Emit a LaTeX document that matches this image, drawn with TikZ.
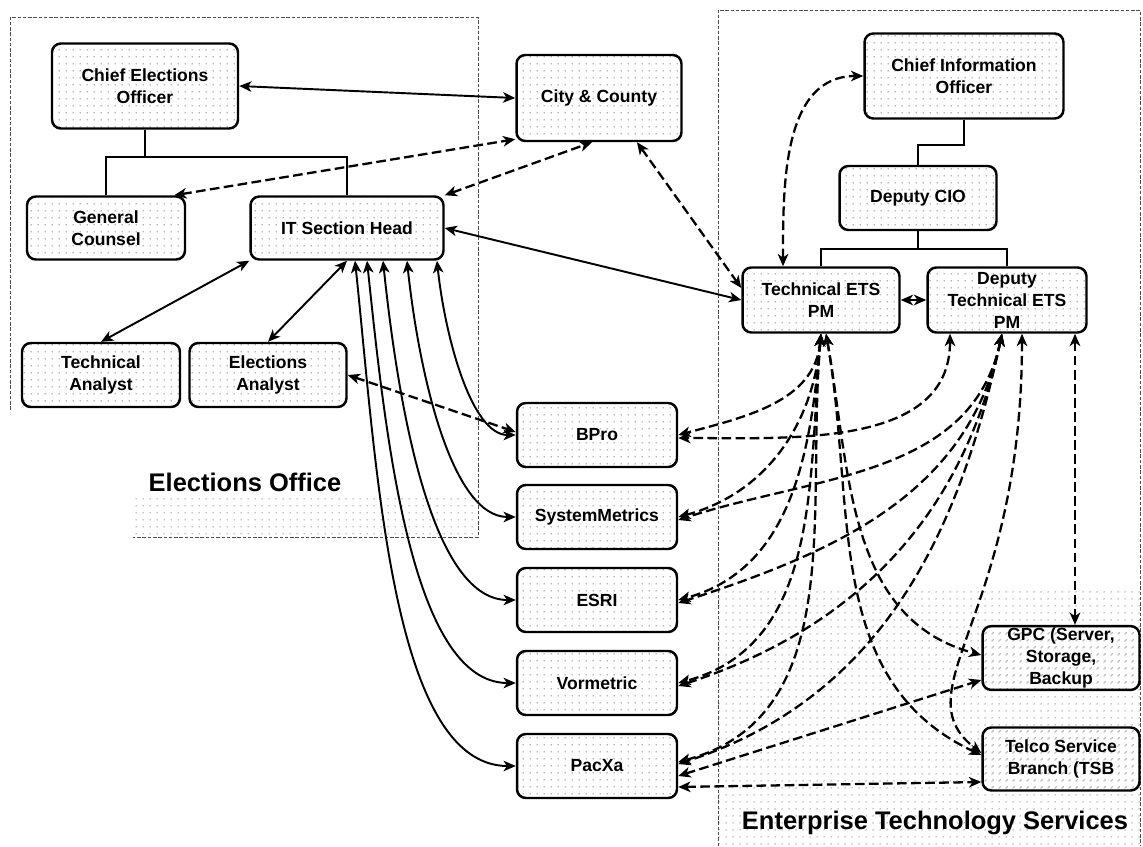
\documentclass[tikz,border=0pt]{standalone}
\usepackage{fontspec}
\setmainfont{Liberation Sans}
\usetikzlibrary{arrows.meta,calc,patterns.meta}

\tikzdeclarepattern{
  name=scandots,
  type=uncolored,
  bounding box={(0pt,0pt) and (4pt,4pt)},
  tile size={(4pt,4pt)},
  code={\fill (2pt,2pt) circle (0.45pt);}
}

\begin{document}
\begin{tikzpicture}[x=0.02cm, y=0.02cm,
    >={Stealth[length=7pt,width=6pt,inset=2pt]},
    unit/.style={draw, line width=1.4pt, rounded corners=5pt,
      pattern=scandots, pattern color=black!55, align=center,
      font=\bfseries\fontsize{10}{12.5}\selectfont, inner sep=2pt,
      minimum width=3.16cm, minimum height=1.28cm},
    org/.style={line width=1.1pt},
    link/.style={line width=1.1pt, <->},
    dlink/.style={link, line width=1.3pt, dash pattern=on 5.5pt off 2.5pt},
    area/.style={line width=0.5pt, dash pattern=on 2pt off 1pt, black!70},
    band/.style={pattern=scandots, pattern color=black!45},
    title/.style={font=\bfseries\fontsize{14.5}{16}\selectfont}]

  \useasboundingbox[fill=white] (0,0) rectangle (1143,-846);

  % the two offices
  \fill[band] (133,-495) rectangle (478,-537);
  \draw[area] (10,-410) -- (10,-17) -- (478,-17) -- (478,-537) -- (133,-537);
  \node[title] (eolabel) at (245,-482) {Elections Office};

  \fill[band] (718,-590) rectangle (1140,-846);
  \draw[area] (718,-846) -- (718,-10) -- (1140,-10) -- (1140,-846);
  \node[title] (etslabel) at (935,-823) {Enterprise Technology Services};

  % boxes
  \node[unit, minimum width=3.72cm, minimum height=1.7cm] (ceo) at (145,-86) {Chief Elections\\Officer};
  \node[unit, minimum height=1.26cm] (counsel) at (106,-228) {General\\Counsel};
  \node[unit, minimum width=3.86cm, minimum height=1.26cm] (ithead) at (347,-228) {IT Section Head};
  \node[unit] (techan) at (101,-375) {Technical\\Analyst};
  \node[unit, minimum width=3.14cm] (elecan) at (268,-375) {Elections\\Analyst};
  \node[unit, minimum width=3.3cm, minimum height=1.72cm] (city) at (599,-98) {City \& County};

  \node[unit, minimum width=3.98cm, minimum height=1.7cm] (cio) at (964,-76) {Chief Information\\Officer};
  \node[unit, minimum width=3.14cm] (dcio) at (918,-198) {Deputy CIO};
  \node[unit, minimum width=3.14cm, minimum height=1.3cm] (etspm) at (821,-300) {Technical ETS\\PM};
  \node[unit, minimum width=3.18cm, minimum height=1.3cm, inner sep=0.5pt] (detspm) at (1007,-300) {Deputy\\Technical ETS\\PM};
  \node[unit, minimum width=3.14cm, minimum height=1.26cm, inner sep=1pt] (gpc) at (1061,-658) {GPC (Server,\\Storage,\\Backup};
  \node[unit, minimum width=3.14cm, minimum height=1.26cm] (telco) at (1061,-759) {Telco Service\\Branch (TSB};

  \foreach \name/\txt/\y in {bpro/BPro/435, sysmet/SystemMetrics/517, esri/ESRI/600, vorm/Vormetric/683, pacxa/PacXa/766}
    \node[unit, minimum width=3.2cm] (\name) at (597,-\y) {\txt};

  % reporting lines
  \draw[org] (ceo.south) -- ++(0,-27) coordinate (ceobar);
  \draw[org] (counsel.north) |- (ceobar) -| (ithead.north);
  \draw[org] (cio.south) -- ++(0,-25) -| (dcio.north);
  \draw[org] (dcio.south) -- ++(0,-18) coordinate (dciobar);
  \draw[org] (etspm.north) |- (dciobar) -| (detspm.north);

  % solid links
  \draw[link] (ceo.east) -- (city.west);
  \draw[link] (ithead.east) -- (etspm.west);
  \draw[link] (ithead.south west) -- (techan.north);
  \draw[link] (ithead.south) -- (elecan.north);
  \foreach \dx/\tgt in {1.8/bpro, 1.2/sysmet, 0.72/esri, 0.4/vorm, 0.16/pacxa}
    \draw[link] ([xshift=\dx cm]ithead.south) to[out=-84, in=180, in looseness=0.6] (\tgt.west);

  % dashed links
  \draw[dlink] ([xshift=-0.24cm]counsel.north east) -- ([yshift=0.06cm]city.south west);
  \draw[dlink] (ithead.north east) -- ([xshift=-0.14cm]city.south);
  \draw[dlink] ([xshift=0.76cm]city.south) -- ([yshift=0.24cm]etspm.west);
  \draw[dlink] (elecan.east) -- ([yshift=0.06cm]bpro.west);
  \draw[dlink] ([xshift=-0.76cm]etspm.north) to[out=90, in=180] (cio.west);
  \draw[dlink] (etspm.east) -- (detspm.west);
  \draw[dlink] ([xshift=1.36cm]detspm.south) -- ([xshift=1.36cm]detspm.south |- gpc.north);

  \foreach \tgt/\dy in {bpro/0, sysmet/0, esri/0, vorm/0, pacxa/0.08}
    \draw[dlink] (etspm.south) to[out=-95, in=15] ([yshift=\dy cm]\tgt.east);
  \draw[dlink] ([xshift=-1.14cm]detspm.south) to[out=-90, in=0] ([yshift=-0.06cm]bpro.east);
  \foreach \tgt/\dy in {sysmet/-0.06, esri/-0.06, vorm/-0.06, pacxa/0.04}
    \draw[dlink] ([xshift=-0.1cm]detspm.south) to[out=-102, in=18] ([yshift=\dy cm]\tgt.east);

  \draw[dlink] ([xshift=0.1cm]etspm.south) to[out=-80, in=165] ([yshift=0.06cm]gpc.west);
  \draw[dlink] ([xshift=0.1cm]etspm.south) to[out=-80, in=155] ([yshift=0.08cm]telco.west);
  \draw[dlink] ([xshift=0.3cm]detspm.south) .. controls +(0,-285) and (900,-690) .. ([yshift=0.12cm]telco.west);
  \draw[dlink] ([yshift=-0.2cm]pacxa.east) -- ([yshift=-0.44cm]gpc.west);
  \draw[dlink] ([yshift=-0.42cm]pacxa.east) -- ([yshift=-0.46cm]telco.west);
\end{tikzpicture}
\end{document}
